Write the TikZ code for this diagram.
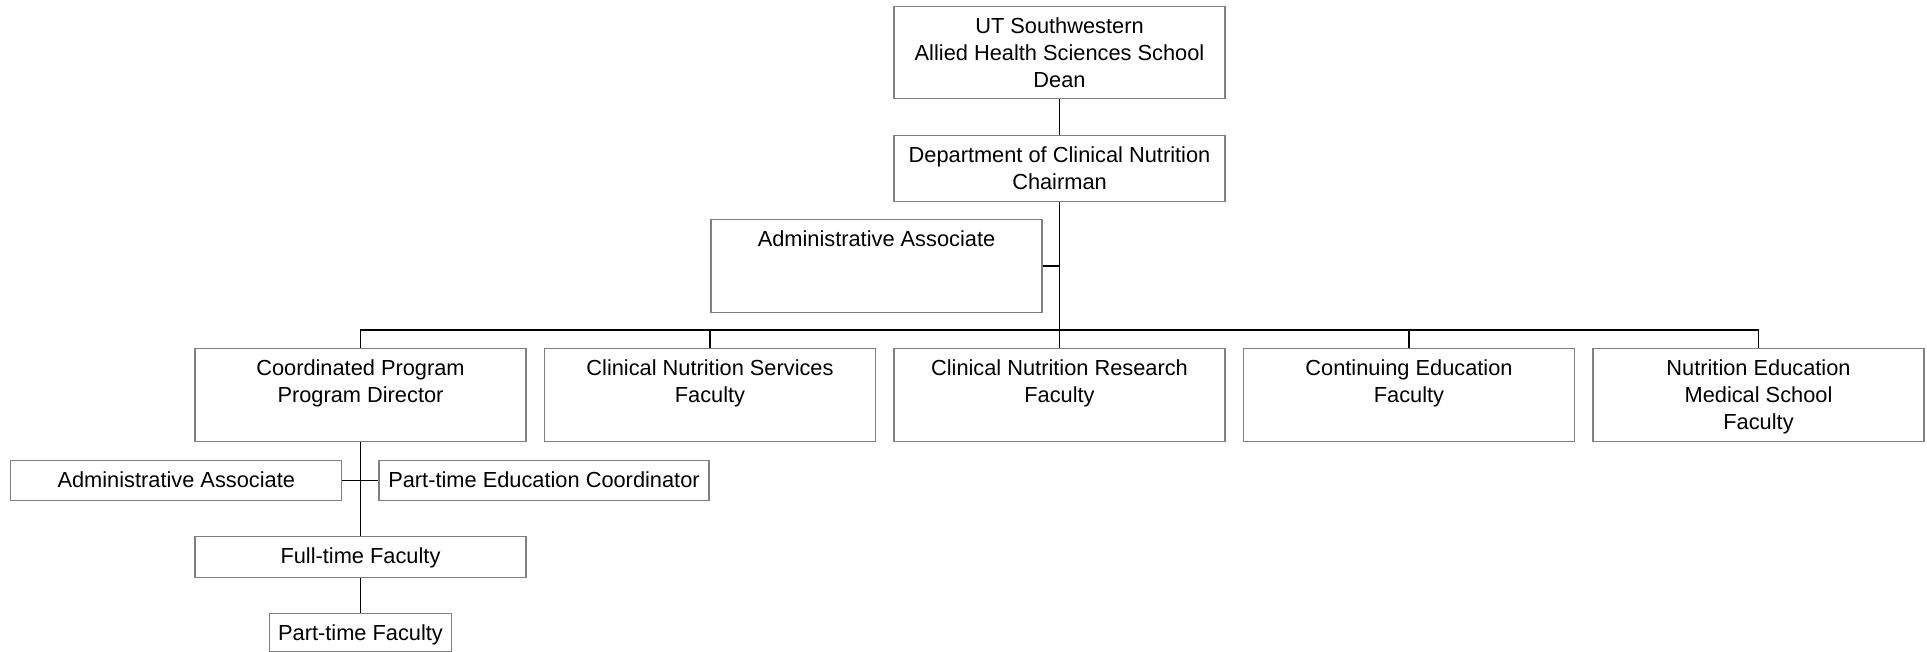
\documentclass[tikz,border=0pt]{standalone}
\usepackage{fontspec}
\setmainfont{Liberation Sans}
\newcommand{\unitlines}[1]{\begin{tabular}[t]{@{}c@{}}#1\end{tabular}}
\begin{document}
\begin{tikzpicture}
[x=1pt,y=-1pt,
  font=\fontsize{21.8}{26.7}\selectfont,
  unitdecorate/.style={draw=gray,line width=1.3pt,inner sep=0pt,anchor=north,%
    text height=27pt,minimum width=331pt},
  linkdecorate/.style={draw,line width=1.6pt}]
\useasboundingbox (0,0) rectangle (1927,652);
% boxes of the chart
\node (dean) at (1059.5,6) [unitdecorate,text depth=65pt]
  {\unitlines{UT Southwestern\\Allied Health Sciences School\\Dean}};
\node (chair) at (1059.5,135) [unitdecorate,text depth=39pt]
  {\unitlines{Department of Clinical Nutrition\\Chairman}};
\node (admin) at (876.5,219) [unitdecorate,text depth=66pt] {Administrative Associate};
\node (coordprog) at (360.5,348) [unitdecorate,text depth=66pt]
  {\unitlines{Coordinated Program\\Program Director}};
\node (services) at (710,348) [unitdecorate,text depth=66pt]
  {\unitlines{Clinical Nutrition Services\\Faculty}};
\node (research) at (1059.5,348) [unitdecorate,text depth=66pt]
  {\unitlines{Clinical Nutrition Research\\Faculty}};
\node (conted) at (1409,348) [unitdecorate,text depth=66pt]
  {\unitlines{Continuing Education\\Faculty}};
\node (nutred) at (1758.5,348) [unitdecorate,text depth=66pt]
  {\unitlines{Nutrition Education\\Medical School\\Faculty}};
\node (progadmin) at (176.3,460) [unitdecorate,text depth=13pt] {Administrative Associate};
\node (eduadmin) at (544,460) [unitdecorate,text depth=13pt,minimum width=330pt]
  {Part-time Education Coordinator};
\node (fulltime) at (360.5,536) [unitdecorate,text depth=14pt] {Full-time Faculty};
\node (parttime) at (360.5,613) [unitdecorate,text depth=11pt,minimum width=181.5pt]
  {Part-time Faculty};
% joints on the lines
\coordinate (bus) at (1059.5,330);
\coordinate (adminjoin) at (admin.east -| chair.south);
% lines
\path
(dean) edge[linkdecorate] (chair)
(chair) edge[linkdecorate] (research)
(admin.east) edge[linkdecorate] (adminjoin)
(coordprog) edge[linkdecorate] (fulltime)
(progadmin.east) edge[linkdecorate] (eduadmin.west)
(fulltime) edge[linkdecorate] (parttime);
\draw[linkdecorate] (coordprog.north) |- (bus) -| (nutred.north);
\foreach \unit in {services,conted}
  \draw[linkdecorate] (\unit.north) -- (\unit.north |- bus);
\end{tikzpicture}
\end{document}
